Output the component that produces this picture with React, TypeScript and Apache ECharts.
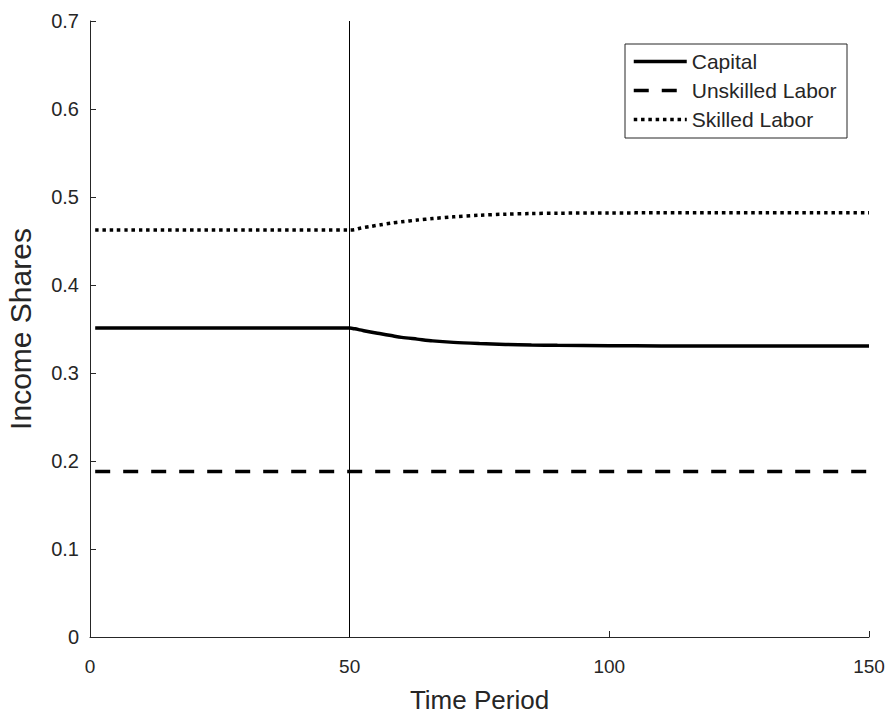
import React, { useEffect, useRef } from "react";
import * as echarts from "echarts";

const timePoints = [1, 50, 51, 52, 54, 56, 58, 60, 63, 66, 70, 75, 80, 85, 90, 100, 110, 120, 130, 140, 150];
const capital = [0.351, 0.351, 0.3502, 0.349, 0.3465, 0.3445, 0.3425, 0.3405, 0.3385, 0.3365, 0.3348, 0.3335, 0.3325, 0.3318, 0.3314, 0.331, 0.3308, 0.3307, 0.3307, 0.3306, 0.3306];
const skilled = [0.4625, 0.4625, 0.463, 0.4645, 0.4665, 0.4685, 0.4703, 0.4718, 0.4738, 0.4755, 0.4775, 0.4793, 0.4805, 0.4812, 0.4816, 0.4819, 0.482, 0.4821, 0.4822, 0.4822, 0.4822];
const unskilledTime = [1, 150];
const unskilled = [0.188, 0.188];
const shockPeriod = 50;
const seriesNames = ["Capital", "Unskilled Labor", "Skilled Labor"];

const FONT = "Liberation Sans, Arial, Helvetica, sans-serif";
const AX = "#262626";

export default function App() {
  const ref = useRef<HTMLDivElement>(null);
  useEffect(() => {
    if (!ref.current) return;
    const chart = echarts.init(ref.current, undefined, { renderer: "svg" });
    const zip = (xs: number[], ys: number[]) => xs.map((x, i) => [x, ys[i]]);
    chart.setOption({
      animation: false,
      backgroundColor: "#fff",
      grid: { left: 90, right: 20, top: 21, bottom: 78, containLabel: false, outerBoundsMode: "none" },
      xAxis: {
        type: "value",
        min: 0,
        max: 150,
        interval: 50,
        name: "Time Period",
        nameLocation: "middle",
        nameGap: 50,
        nameTextStyle: { fontFamily: FONT, fontSize: 26, color: AX },
        axisLine: { show: true, lineStyle: { color: AX, width: 1 } },
        axisTick: { show: true, inside: true, length: 6, lineStyle: { color: AX } },
        axisLabel: { fontFamily: FONT, fontSize: 19, color: AX, margin: 20 },
        splitLine: { show: false },
      },
      yAxis: {
        type: "value",
        min: 0,
        max: 0.7,
        interval: 0.1,
        name: "Income Shares",
        nameLocation: "middle",
        nameGap: 55,
        nameTextStyle: { fontFamily: FONT, fontSize: 30, color: AX },
        axisLine: { show: true, lineStyle: { color: AX, width: 1 } },
        axisTick: { show: true, inside: true, length: 6, lineStyle: { color: AX } },
        axisLabel: { fontFamily: FONT, fontSize: 20, color: AX, margin: 11 },
        splitLine: { show: false },
      },
      legend: {
        left: 632,
        top: 51,
        orient: "vertical",
        padding: 0,
        itemWidth: 53,
        itemHeight: 14,
        itemGap: 8,
        itemTextGap: 7,
        itemStyle: { opacity: 0 },
        lineStyle: { width: 3.5 },
        textStyle: { fontFamily: FONT, fontSize: 21, color: AX, lineHeight: 21 },
        data: seriesNames,
      },
      graphic: [
        {
          type: "rect",
          shape: { x: 625, y: 44, width: 222, height: 94 },
          style: { fill: "none", stroke: AX, lineWidth: 1 },
          silent: true,
          z: 10,
        },
      ],
      series: [
        {
          name: seriesNames[0],
          type: "line",
          data: zip(timePoints, capital),
          symbol: "none",
          smooth: 0.3,
          lineStyle: { color: "#000", width: 3.5, type: "solid" },
          itemStyle: { color: "#000" },
          markLine: {
            silent: true,
            symbol: ["none", "none"],
            label: { show: false },
            lineStyle: { color: "#000", width: 1, type: "solid" },
            data: [{ xAxis: shockPeriod }],
          },
        },
        {
          name: seriesNames[1],
          type: "line",
          data: zip(unskilledTime, unskilled),
          symbol: "none",
          lineStyle: { color: "#000", width: 3.5, type: [15, 13] },
          itemStyle: { color: "#000" },
        },
        {
          name: seriesNames[2],
          type: "line",
          data: zip(timePoints, skilled),
          symbol: "none",
          smooth: 0.3,
          lineStyle: { color: "#000", width: 3.5, type: [3.5, 3.8] },
          itemStyle: { color: "#000" },
        },
      ],
    });
    return () => chart.dispose();
  }, []);
  return (
    <div
      ref={ref}
      style={{ position: "absolute", left: 0, top: 0, width: 889, height: 715, background: "#fff" }}
    />
  );
}
